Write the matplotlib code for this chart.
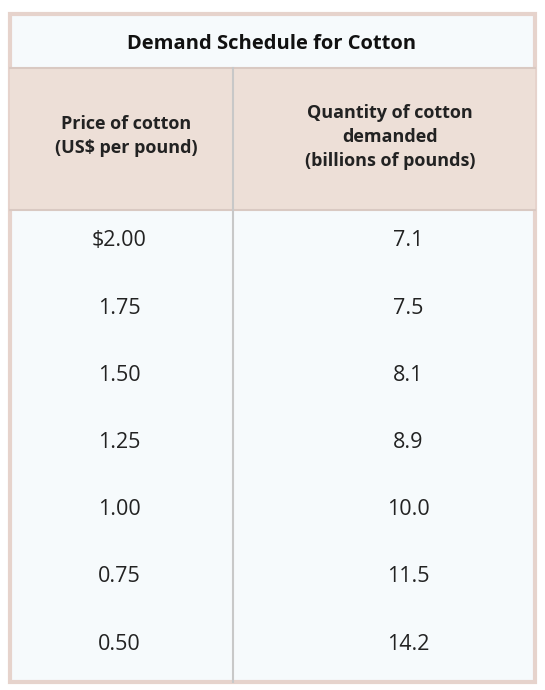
import matplotlib.pyplot as plt
from matplotlib.patches import Rectangle

title = "Demand Schedule for Cotton"
col_headers = ["Price of cotton\n(US$ per pound)", "Quantity of cotton\ndemanded\n(billions of pounds)"]
prices = ["$2.00", "1.75", "1.50", "1.25", "1.00", "0.75", "0.50"]
quantities = ["7.1", "7.5", "8.1", "8.9", "10.0", "11.5", "14.2"]

plt.rcParams['font.family'] = ['Open Sans', 'DejaVu Sans']
fig = plt.figure(figsize=(5.45, 6.9), dpi=100)
ax = fig.add_axes([0, 0, 1, 1])
ax.set_xlim(0, 545)
ax.set_ylim(690, 0)
ax.axis('off')

border = '#e6d3cc'
ax.add_patch(Rectangle((0, 0), 545, 690, color='white'))
ax.add_patch(Rectangle((10, 14), 525, 668, facecolor='#f6fafc', edgecolor=border, lw=3))
ax.add_patch(Rectangle((10, 68), 525, 142, facecolor='#eddfd7', edgecolor='none'))
ax.plot([10, 535], [68, 68], color='#d9c9c2', lw=1.5)
ax.plot([10, 535], [210, 210], color='#d9c9c2', lw=1.5)
ax.plot([233, 233], [68, 682], color='#c8c8c8', lw=1.5)

ax.text(272, 44, title, ha='center', va='center', fontsize=14.5, fontweight='bold', color='#111111')
ax.text(126, 136, col_headers[0], ha='center', va='center', fontsize=13, fontweight='bold',
        color='#222222', linespacing=1.45)
ax.text(390, 137, col_headers[1], ha='center', va='center', fontsize=13, fontweight='bold',
        color='#222222', linespacing=1.45)

row_y0, row_step = 241, 67.2
for i, (p, q) in enumerate(zip(prices, quantities)):
    y = row_y0 + i * row_step
    ax.text(119, y, p, ha='center', va='center', fontsize=15.5, color='#222222')
    ax.text(408, y, q, ha='center', va='center', fontsize=15.5, color='#222222')

fig.savefig('out.png', dpi=100)
